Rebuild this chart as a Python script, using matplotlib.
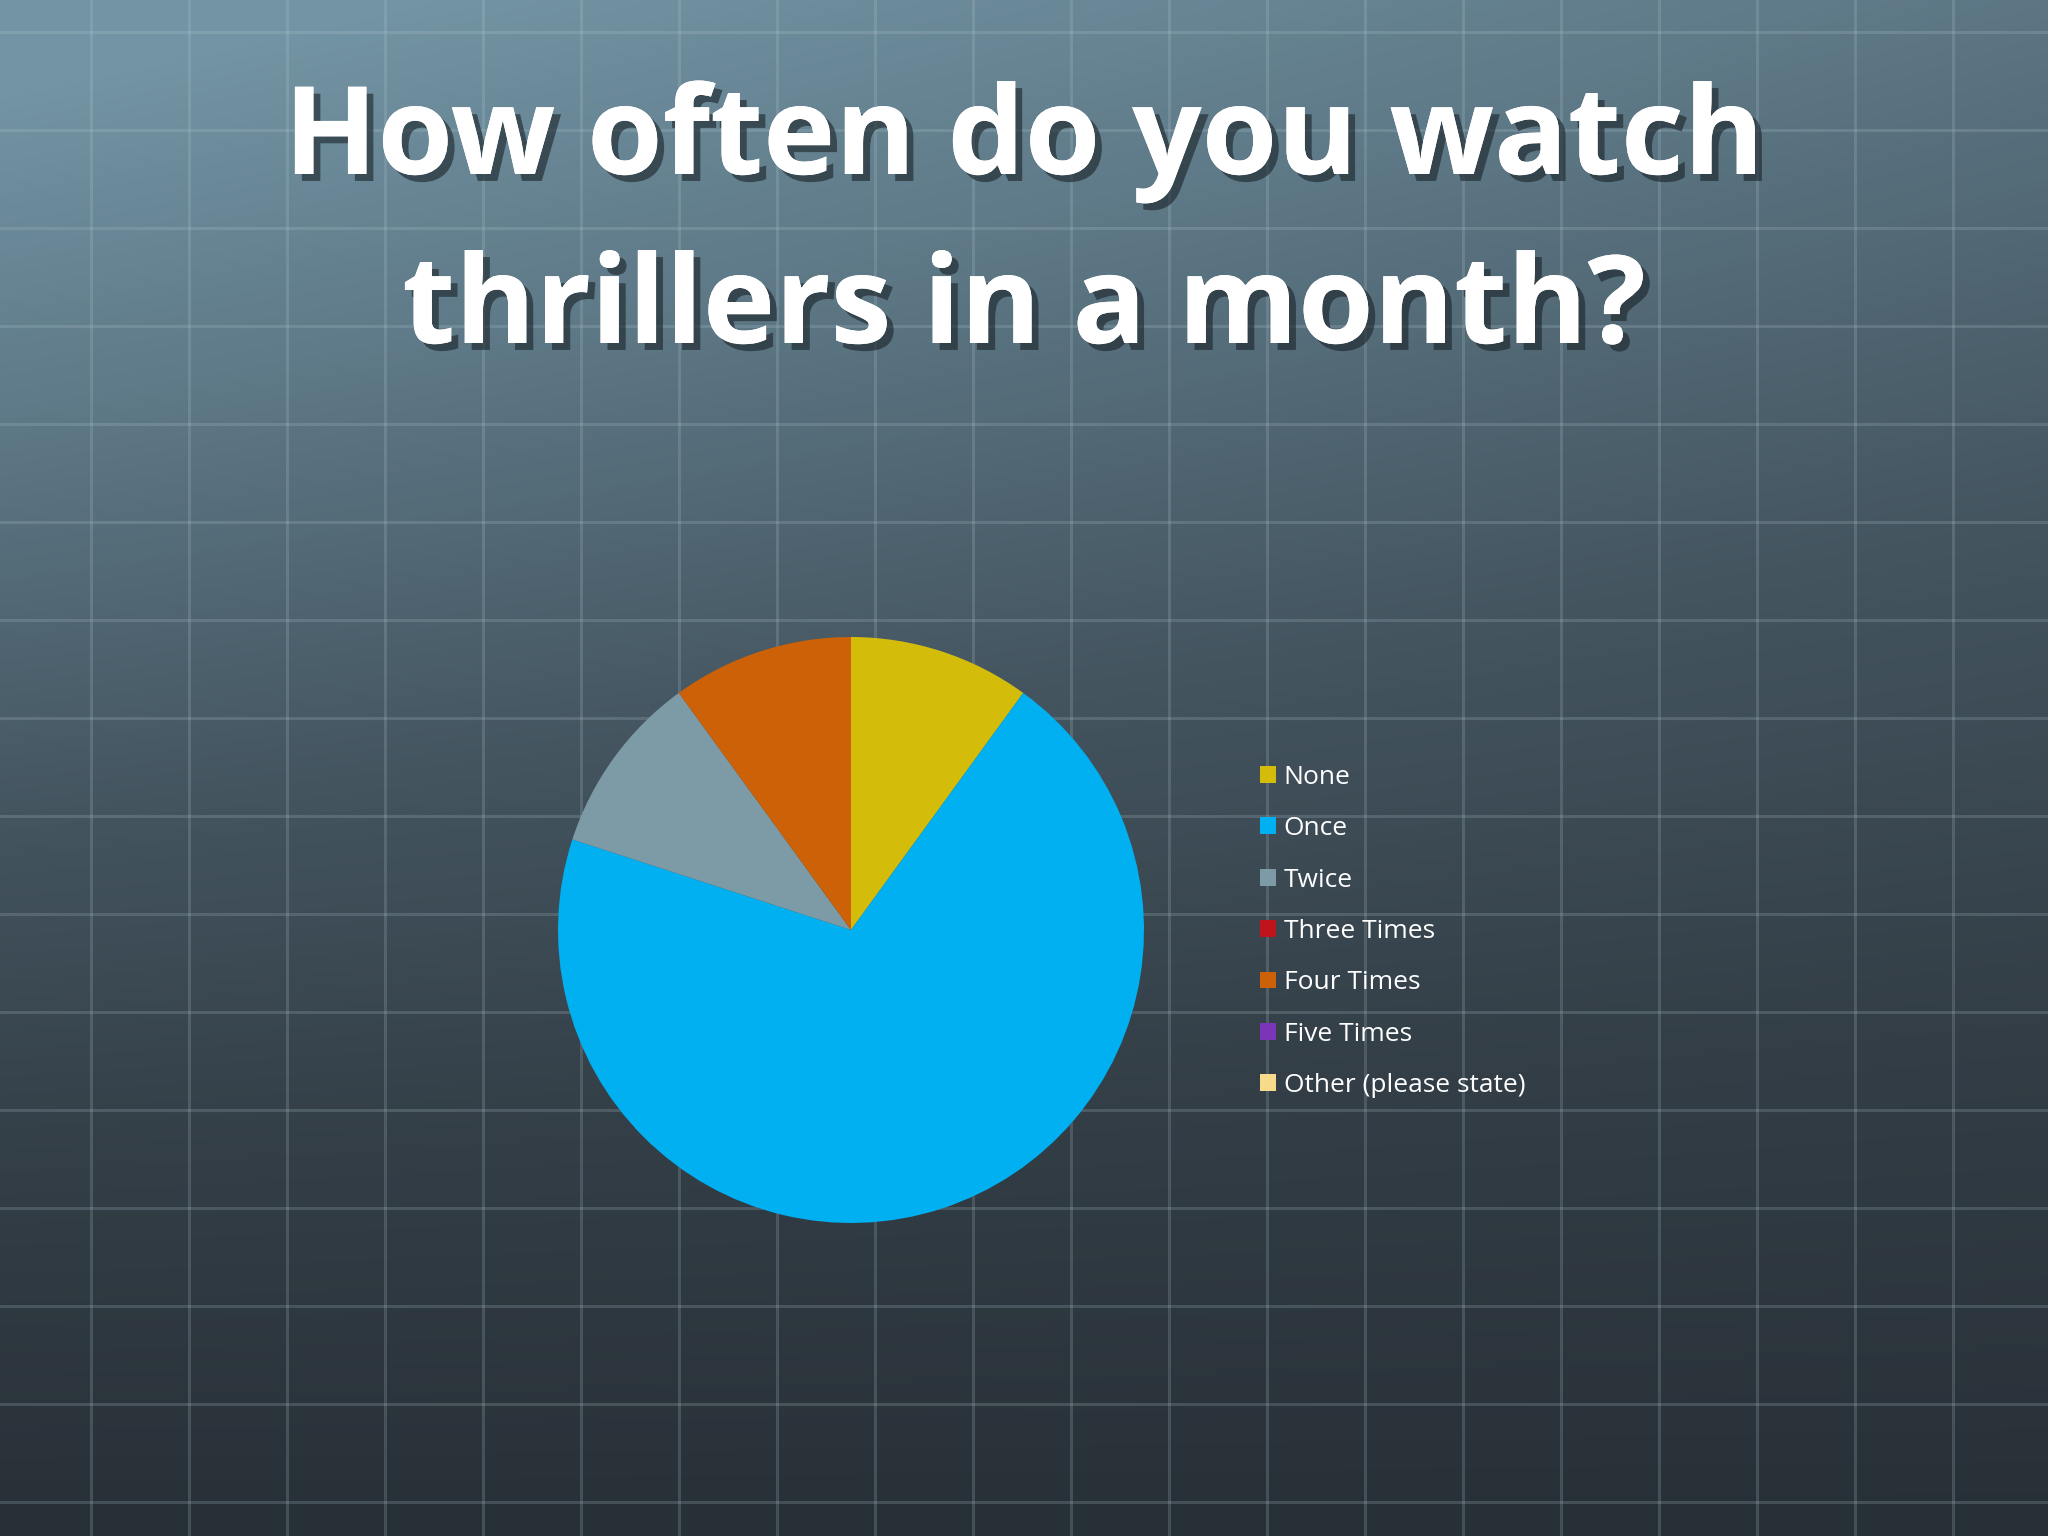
import numpy as np
import matplotlib
matplotlib.use("Agg")
import matplotlib.pyplot as plt
import matplotlib.patheffects as pe
from matplotlib.colors import LinearSegmentedColormap

# survey answers (share of respondents)
categories = ["None", "Once", "Twice", "Three Times", "Four Times",
              "Five Times", "Other (please state)"]
counts = [1, 7, 1, 0, 1, 0, 0]
colors = ["#d4bd0a", "#00b0f0", "#7d9ba6", "#c0141c", "#cc6108",
          "#7a35b8", "#f6dc8a"]
title_lines = ["How often do you watch", "thrillers in a month?"]

W, H = 2048, 1536
fig = plt.figure(figsize=(W / 100, H / 100), dpi=100)

# --- background: slide gradient with a faint grid ---
bg = fig.add_axes([0, 0, 1, 1])
yy, xx = np.mgrid[0:1:200j, 0:1:260j]
t = np.clip(0.85 * yy + 0.25 * xx * (1 - yy) - 0.05, 0, 1)
cmap = LinearSegmentedColormap.from_list(
    "slide", ["#7394a4", "#5c7684", "#445560", "#333e46", "#283037"])
bg.imshow(t, cmap=cmap, extent=[0, W, H, 0], aspect="auto",
          interpolation="bicubic")
for x in np.arange(91, W, 98):
    bg.axvline(x, color="#b9cdd6", alpha=0.2, lw=2.2)
for y in np.arange(32, H, 98):
    bg.axhline(y, color="#b9cdd6", alpha=0.2, lw=2.2)
bg.set_xlim(0, W)
bg.set_ylim(H, 0)
bg.axis("off")

# --- title ---
shadow = [pe.withSimplePatchShadow(offset=(5, -5), shadow_rgbFace="#1a2328",
                                   alpha=0.6), pe.Normal()]
for i, line in enumerate(title_lines):
    fig.text(0.5, 1 - (174 + 169 * i) / H, line, ha="center", va="baseline",
             fontsize=88, fontweight="bold", family="Open Sans",
             color="white", path_effects=shadow)

# --- pie ---
cx, cy, r = 851, 930, 293
ax = fig.add_axes([(cx - r) / W, (H - cy - r) / H, 2 * r / W, 2 * r / H])
wedges, _ = ax.pie(counts, colors=colors, startangle=90, counterclock=False,
                   wedgeprops=dict(linewidth=0))
ax.set_xlim(-1, 1)
ax.set_ylim(-1, 1)
ax.axis("off")

leg = fig.legend(wedges, categories, loc="upper left",
                 bbox_to_anchor=(1236 / W, 1 - 741 / H), frameon=False,
                 handlelength=0.6, handleheight=0.6, handletextpad=0.3,
                 labelspacing=1.0, prop=dict(family="Open Sans", size=19))
for txt in leg.get_texts():
    txt.set_color("white")

fig.savefig("out.png", dpi=100)
